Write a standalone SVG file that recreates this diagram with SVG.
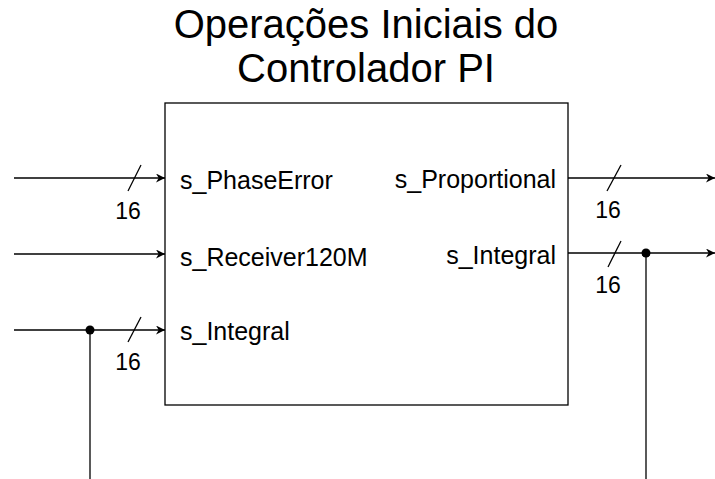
<svg xmlns="http://www.w3.org/2000/svg" width="715" height="479" viewBox="0 0 715 479">
  <style>
    .title { font-family: "Liberation Sans", Arial, sans-serif; font-size: 40px; fill: #000; text-anchor: middle; }
    .port { font-family: "Liberation Sans", Arial, sans-serif; font-size: 25px; fill: #000; }
    .bus { font-family: "Liberation Sans", Arial, sans-serif; font-size: 23px; fill: #000; text-anchor: middle; }
    .wire { stroke: #000; stroke-width: 1.3; fill: none; }
    .box { stroke: #000; stroke-width: 1.3; fill: #fff; }
    .dot { fill: #000; }
  </style>
  <defs>
    <marker id="arrow" viewBox="0 0 10 10" refX="10" refY="5" markerWidth="9" markerHeight="9" markerUnits="userSpaceOnUse" orient="auto">
      <path d="M0,0 L10,5 L0,10 L3,5 Z" fill="#000"/>
    </marker>
  </defs>

  <g id="block">
    <rect class="box" x="165" y="103" width="403" height="302"/>
    <text class="title" x="366" y="38">Operações Iniciais do</text>
    <text class="title" x="366" y="82">Controlador PI</text>
    <text class="port" x="180" y="189">s_PhaseError</text>
    <text class="port" x="180" y="266">s_Receiver120M</text>
    <text class="port" x="180" y="340">s_Integral</text>
    <text class="port" x="556" y="188" text-anchor="end">s_Proportional</text>
    <text class="port" x="556" y="264" text-anchor="end">s_Integral</text>
  </g>

  <g id="connectors">
    <!-- inputs -->
    <line class="wire" x1="14" y1="178" x2="165" y2="178" marker-end="url(#arrow)"/>
    <line class="wire" x1="14" y1="254" x2="165" y2="254" marker-end="url(#arrow)"/>
    <line class="wire" x1="14" y1="330" x2="165" y2="330" marker-end="url(#arrow)"/>
    <line class="wire" x1="90" y1="330" x2="90" y2="479"/>
    <circle class="dot" cx="90" cy="330" r="4.5"/>
    <!-- outputs -->
    <line class="wire" x1="568" y1="178" x2="715" y2="178" marker-end="url(#arrow)"/>
    <line class="wire" x1="568" y1="253" x2="715" y2="253" marker-end="url(#arrow)"/>
    <line class="wire" x1="646" y1="253" x2="646" y2="479"/>
    <circle class="dot" cx="646" cy="253" r="4.5"/>
    <!-- bus width marks -->
    <line class="wire" x1="128" y1="191" x2="141" y2="165"/>
    <line class="wire" x1="128" y1="342" x2="141" y2="317"/>
    <line class="wire" x1="607" y1="191" x2="621" y2="165"/>
    <line class="wire" x1="608" y1="267" x2="621" y2="241"/>
  </g>

  <g id="bus-labels">
    <text class="bus" x="128" y="219">16</text>
    <text class="bus" x="128" y="370">16</text>
    <text class="bus" x="608" y="218">16</text>
    <text class="bus" x="608" y="293">16</text>
  </g>
</svg>
